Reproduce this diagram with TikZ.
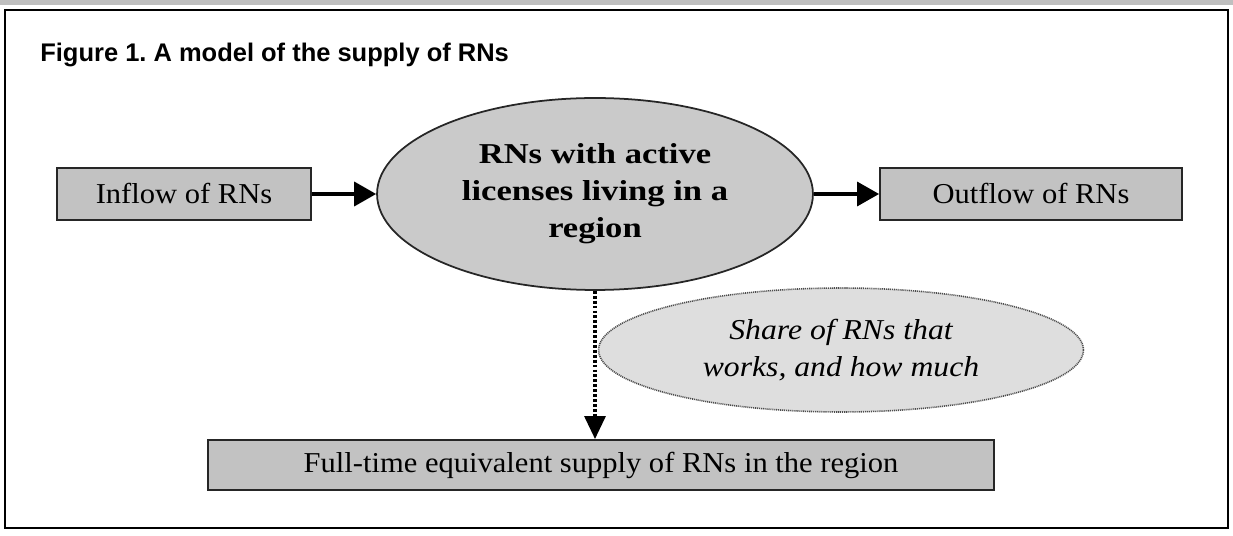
\documentclass[tikz,border=0pt]{standalone}
\usepackage{fontspec}
\setmainfont[FakeStretch=1.06, BoldFeatures={FakeStretch=1.2}, ItalicFeatures={FakeStretch=1.1}]{Liberation Serif}
\newfontfamily\titlefont{Liberation Sans}
\usetikzlibrary{positioning, arrows.meta, shapes.geometric}
\definecolor{boxgray}{RGB}{194,194,194}
\definecolor{poolgray}{RGB}{202,202,202}
\definecolor{sharegray}{RGB}{222,222,222}
\frenchspacing

\begin{document}
\begin{tikzpicture}[x=0.02cm, y=-0.02cm,
    flowbox/.style={rectangle, draw=black!85, line width=1.1pt, fill=boxgray, inner sep=0pt, minimum height=1.04cm, font=\fontsize{16.4}{20}\selectfont},
    flowarrow/.style={line width=2pt, -{Triangle[length=0.44cm, width=0.48cm]}},
    dotarrow/.style={line width=1.8pt, dash pattern=on 1.6pt off 1.2pt, -{Triangle[length=0.46cm, width=0.42cm]}}]
    \useasboundingbox (0,0) rectangle (1233,536);
    \fill[black!25] (0,0) rectangle (1233,5);
    \draw[line width=1.1pt] (5,10) rectangle (1228,528);
    \node[anchor=base west, inner sep=0pt, font=\titlefont\bfseries\fontsize{14.5}{17}\selectfont] (title) at (40,62) {Figure 1. A model of the supply of RNs};

    \node[flowbox, minimum width=5.08cm] (inflow) at (184,194) {Inflow of RNs};
    \node[ellipse, draw=black!85, line width=1pt, fill=poolgray, inner sep=0pt, minimum width=8.72cm, minimum height=3.84cm, align=center, font=\bfseries\fontsize{16.4}{21}\selectfont] (pool) at (595,194) {RNs with active\\licenses living in a\\region};
    \node[flowbox, minimum width=6.04cm] (outflow) at (1031,194) {Outflow of RNs};
    \node[ellipse, draw=black!70, line width=0.9pt, dash pattern=on 0.6pt off 0.5pt, fill=sharegray, inner sep=0pt, minimum width=9.7cm, minimum height=2.48cm, align=center, font=\itshape\fontsize{16.4}{21}\selectfont] (share) at (841,350) {Share of RNs that\\works, and how much};
    \node[flowbox, minimum width=15.74cm, minimum height=1cm] (fte) at (601,465) {Full-time equivalent supply of RNs in the region};

    \draw[flowarrow] (inflow.east) -- (pool.west);
    \draw[flowarrow] (pool.east) -- (outflow.west);
    \draw[dotarrow] (pool.south) -- (pool.south |- fte.north);
\end{tikzpicture}
\end{document}
